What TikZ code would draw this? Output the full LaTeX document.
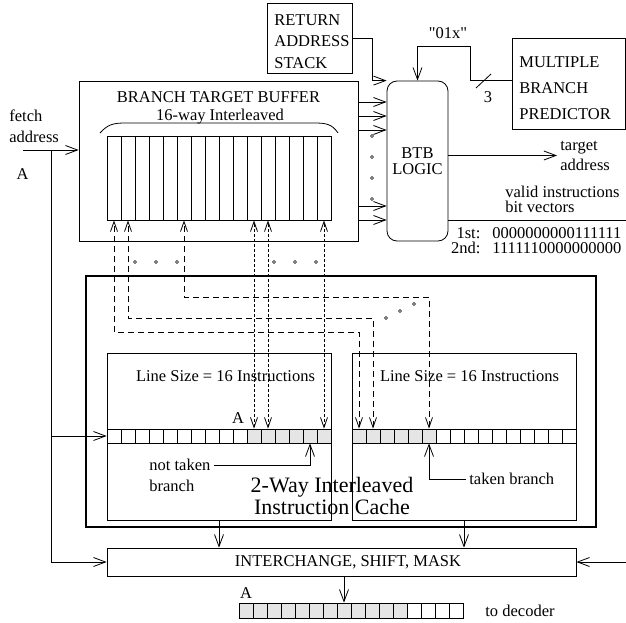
\documentclass[tikz,border=0pt]{standalone}
\usepackage{fontspec}
\setmainfont{Liberation Serif}
\usetikzlibrary{arrows.meta,calc}
\newcommand\straightquote{\XeTeXglyph\XeTeXcharglyph"22\relax}

\begin{document}
\begin{tikzpicture}[
    x=1pt, y=-1pt,
    line width=0.8pt,
    txt/.style={inner sep=3pt, font=\fontsize{16.5}{#1}\selectfont},
    txt/.default=20,
    frame/.style={rectangle, draw, inner sep=0pt},
    cell/.style={rectangle, draw, inner sep=0pt, minimum width=14pt, minimum height=14pt},
    arr/.style={-{Straight Barb[length=12pt, width=9pt]}},
    dotarr/.style={dash pattern=on 3pt off 2pt,
        {Straight Barb[length=10pt, width=7pt]}-{Straight Barb[length=10pt, width=7pt]}},
    dasharr/.style={dash pattern=on 6pt off 4pt,
        {Straight Barb[length=10pt, width=7pt]}-{Straight Barb[length=10pt, width=7pt]}}
]
    \useasboundingbox (0,0) rectangle (626,623);

    \node[frame, minimum width=85pt, minimum height=70pt] (ras) at (309.5,38) {};
    \node[txt=21.5, align=left, anchor=west] (rastext) at (271,41.5) {RETURN\\ADDRESS\\STACK};
    \node[frame, minimum width=113pt, minimum height=91pt] (mbp) at (568.5,83.5) {};
    \node[txt=26, align=left, anchor=west] (mbptext) at (516,88.5) {MULTIPLE\\BRANCH\\PREDICTOR};

    \node[frame, minimum width=279pt, minimum height=160pt] (btb) at (218.5,161) {};
    \node[txt] (btbtitle) at (218.5,97) {BRANCH TARGET BUFFER};
    \node[txt] (ways) at (220,117) {16-way Interleaved};
    \draw (100,133) .. controls (108,124) and (114,123) .. (126,123) -- (314,123)
        .. controls (326,123) and (332,124) .. (338,133);
    \foreach \i in {0,...,15}
        \node[frame, minimum width=14pt, minimum height=84pt] (col\i) at ({114+14*\i},178) {};

    \node[frame, rounded corners=10pt, minimum width=61pt, minimum height=160pt,
        txt=16.5, align=center] (logic) at (417.5,161) {BTB\\LOGIC};

    \node[txt=21, align=left, anchor=west] (fetch) at (6,126) {fetch\\address};
    \node[txt] (afetch) at (22.5,174) {A};
    \coordinate (fa) at (23,150);
    \coordinate (tap) at (51,150);

    \node[txt=20, align=left, anchor=west] (tgt) at (557,155.5) {target\\address};
    \node[txt=15, align=left, anchor=west] (valid) at (502,199.5) {valid instructions\\bit vectors};
    \coordinate (vend) at (626,220);
    \node[txt=15, align=left, anchor=west] (bits) at (447,240.5)
        {\makebox[30pt][r]{1st:}\hspace{12pt}0000000000111111\\
         \makebox[30pt][r]{2nd:}\hspace{12pt}1111110000000000};

    \node[txt] (code) at (448,33) {\straightquote 01x\straightquote};
    \node[txt] (nbits) at (488,97) {3};

    \node[frame, line width=2.8pt, minimum width=510pt, minimum height=251pt] (icache) at (341,401.5) {};
    \node[frame, minimum width=224pt, minimum height=167pt] (cba) at (219,436.5) {};
    \node[frame, minimum width=224pt, minimum height=167pt] (cbb) at (464,436.5) {};
    \node[txt] (lsa) at (225.5,376) {Line Size = 16 Instructions};
    \node[txt] (lsb) at (469.5,376) {Line Size = 16 Instructions};
    \foreach \i in {0,...,9} {
        \node[cell] (la\i) at ({114+14*\i},436) {};
        \node[cell] (lb\the\numexpr\i+6\relax) at ({359+14*(\i+6)},436) {};
    }
    \foreach \i in {10,...,15}
        \node[cell, fill=gray!20] (la\i) at ({114+14*\i},436) {};
    \foreach \i in {0,...,5}
        \node[cell, fill=gray!20] (lb\i) at ({359+14*\i},436) {};
    \node[txt] (aline) at (238,418) {A};
    \node[txt, anchor=west] (ntk) at (146,465) {not taken};
    \node[txt, anchor=west] (ntb) at (146,486) {branch};
    \node[txt, anchor=west] (tkn) at (466,479) {taken branch};
    \node[txt=22, font=\fontsize{22}{22}\selectfont, align=center] (cachename) at (332,495.5)
        {2-Way Interleaved\\Instruction Cache};

    \node[frame, minimum width=469pt, minimum height=28pt] (ich) at (341.5,562) {};
    \node[txt] (ichtext) at (348,562) {INTERCHANGE, SHIFT, MASK};
    \coordinate (rin) at (626,562);
    \foreach \i in {0,...,11}
        \node[cell, fill=gray!20, minimum height=15pt] (out\i) at ({246+14*\i},610.5) {};
    \foreach \i in {12,...,15}
        \node[cell, minimum height=15pt] (out\i) at ({246+14*\i},610.5) {};
    \node[txt] (aout) at (246,593) {A};
    \node[txt, anchor=west] (dec) at (482,610.5) {to decoder};

    \draw[arr] (ras.east) -- ++(20,0) |- (logic.north west);
    \draw[arr] (mbp.west |- 0,80) -| (470,46) -| (logic.north);
    \draw (476,88) -- (491,74);
    \foreach \y in {102,116,130,206,220}
        \draw[arr] (btb.east |- 0,\y) -- (logic.west |- 0,\y);
    \draw[arr] (logic.east |- tgt.west) -- (tgt.west);
    \draw (logic.east |- vend) -- (vend);
    \draw[arr] (fa) -- (btb.west |- fa);
    \draw[arr] (tap) |- (ich.west);
    \draw[arr] (tap |- la0.west) -- (la0.west);
    \foreach \i in {10,11,15}
        \draw[dotarr] (la\i.north) -- (col\i.south);
    \foreach \i/\y in {0/332,1/318,5/297}
        \draw[dasharr] (lb\i.north) -- (lb\i.north |- 0,\y) -| (col\i.south);
    \foreach \x/\y in {372/136,372/157,372/178,372/199,135/262,156/262,177/262,
        274/262,295/262,316/262,386/318,400/311,414/304}
        \draw[line width=0.6pt] (\x,\y) circle (1.5pt);
    \draw[arr] (ntk.east) -| (la14.south);
    \draw[arr] (tkn.west) -| (lb5.south);
    \draw[arr] (cba.south) -- (cba.south |- ich.north);
    \draw[arr] (cbb.south) -- (cbb.south |- ich.north);
    \draw[arr] (rin) -- (ich.east);
    \draw[arr] (ich.south -| out7) -- (out7.north);
\end{tikzpicture}
\end{document}
